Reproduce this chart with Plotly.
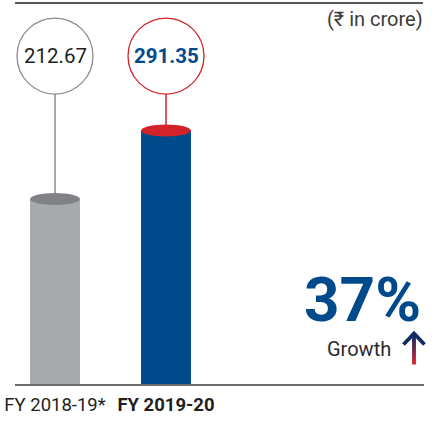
import plotly.graph_objects as go

# ---- data ----
categories = ["FY 2018-19*", "FY 2019-20"]
tick_labels = ["FY 2018-19*", "<b>FY 2019-20</b>"]
values = [212.67, 291.35]
value_labels = ["212.67", "<b>291.35</b>"]
growth_pct = "37%"
growth_label = "Growth"
unit_note = "(₹ in crore)"

# ---- style ----
W, H = 438, 422
ML, MR, MT, MB = 15, 14, 0, 38
PW, PH = W - ML - MR, H - MT - MB
body_colors = ["#a7a9ac", "#004a8c"]
top_colors = ["#808285", "#d2232a"]
ring_colors = ["#8c8c8c", "#d2232a"]
label_colors = ["#231f20", "#004a8c"]
FONT = "Roboto"
YMAX = 441.4
CIRCLE_Y = 377
BAR_W = 0.45
XR = [-40 / 111, (PW - 40) / 111]


def px(x, y):
    return (x - ML) / PW, (H - MB - y) / PH


xs = list(range(len(categories)))
fig = go.Figure()
fig.add_trace(go.Bar(x=xs, y=values, width=BAR_W,
                     marker=dict(color=body_colors, line=dict(width=0)),
                     hoverinfo="skip"))

shapes = []
annotations = []
for i, v in enumerate(values):
    # stem
    shapes.append(dict(type="line", xref="x", yref="y", x0=i, x1=i, y0=v, y1=CIRCLE_Y,
                       line=dict(color=ring_colors[i], width=1.5), layer="above"))
    # cylinder top
    shapes.append(dict(type="circle", xref="x", yref="y", x0=i - BAR_W / 2, x1=i + BAR_W / 2,
                       ysizemode="pixel", yanchor=v, y0=-6, y1=6,
                       fillcolor=top_colors[i], line=dict(width=0), layer="above"))
    # value ring
    shapes.append(dict(type="circle", xref="x", yref="y", xsizemode="pixel", ysizemode="pixel",
                       xanchor=i, yanchor=CIRCLE_Y, x0=-38, x1=38, y0=-38, y1=38,
                       fillcolor="white", line=dict(color=ring_colors[i], width=1.3), layer="above"))
    annotations.append(dict(x=i, y=CIRCLE_Y, xref="x", yref="y", text=value_labels[i],
                            showarrow=False, xanchor="center", yanchor="middle",
                            font=dict(family=FONT, size=20.5, color=label_colors[i])))

# top rule
x0, y0 = px(15, 3)
x1, _ = px(423, 3)
shapes.append(dict(type="line", xref="paper", yref="paper", x0=x0, x1=x1, y0=y0, y1=y0,
                   line=dict(color="#231f20", width=1.6)))

# growth arrow: gradient shaft + navy head
navy = (16, 42, 100)
red = (220, 35, 45)
n = 14
top_y, bot_y = 336, 364
for k in range(n):
    t = (k + 0.5) / n
    c = tuple(int(navy[j] + (red[j] - navy[j]) * t) for j in range(3))
    ya = top_y + (bot_y - top_y) * k / n
    yb = top_y + (bot_y - top_y) * (k + 1) / n + 0.5
    ax, ay = px(414, ya)
    bx, by = px(414, yb)
    shapes.append(dict(type="line", xref="paper", yref="paper", x0=ax, x1=bx, y0=ay, y1=by,
                       line=dict(color="rgb(%d,%d,%d)" % c, width=3.8)))
p1 = px(403.5, 344.5)
p2 = px(414, 333.5)
p3 = px(424.5, 344.5)
shapes.append(dict(type="path", xref="paper", yref="paper",
                   path="M %f,%f L %f,%f L %f,%f" % (p1[0], p1[1], p2[0], p2[1], p3[0], p3[1]),
                   line=dict(color="rgb(16,42,100)", width=3.8)))

ux, uy = px(425, 19)
annotations.append(dict(x=ux, y=uy, xref="paper", yref="paper", text=unit_note, showarrow=False,
                        xanchor="right", yanchor="middle",
                        font=dict(family=FONT, size=20, color="#3b3b3b")))
gx, gy = px(423, 299)
annotations.append(dict(x=gx, y=gy, xref="paper", yref="paper", text="<b>%s</b>" % growth_pct,
                        showarrow=False, xanchor="right", yanchor="middle",
                        font=dict(family=FONT, size=62, color="#004a8c")))
wx, wy = px(393, 349)
annotations.append(dict(x=wx, y=wy, xref="paper", yref="paper", text=growth_label, showarrow=False,
                        xanchor="right", yanchor="middle",
                        font=dict(family=FONT, size=20, color="#2b2b2b")))

fig.update_layout(
    width=W, height=H, margin=dict(l=ML, r=MR, t=MT, b=MB),
    paper_bgcolor="white", plot_bgcolor="white", showlegend=False,
    shapes=shapes, annotations=annotations,
    xaxis=dict(range=XR, tickvals=xs, ticktext=tick_labels, showgrid=False, zeroline=False,
               automargin=False, fixedrange=True,
               showline=True, linecolor="#6d6e71", linewidth=1.5,
               ticks="", ticklen=0, ticklabelstandoff=3,
               tickfont=dict(family=FONT, size=18.5, color="#231f20")),
    yaxis=dict(range=[0, YMAX], visible=False, showgrid=False, zeroline=False, automargin=False,
               fixedrange=True),
)

fig.write_html("out.html", config={"displayModeBar": False, "staticPlot": True},
               post_script="document.body.style.margin='0';document.body.style.overflow='hidden';")
